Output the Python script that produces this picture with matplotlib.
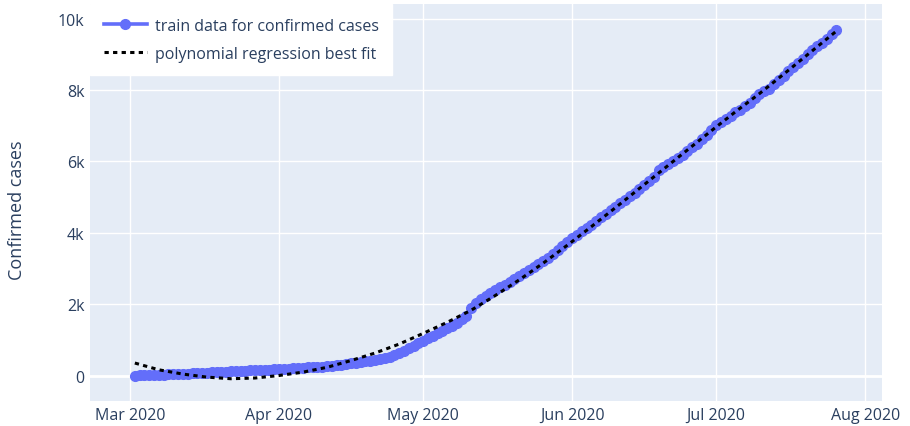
import pandas as pd
import matplotlib
matplotlib.use('Agg')
from matplotlib import pyplot as plt
import matplotlib.dates as mdates

# daily train data, 2 Mar 2020 -> 26 Jul 2020
train_start = '2020-03-02'
confirmed = [
    # Mar 2 - Mar 31
    0, 3, 6, 10, 14, 20, 26, 32, 38, 44, 50, 56, 62, 68, 74,
    80, 88, 96, 104, 112, 118, 124, 130, 136, 142, 148, 154, 160, 167, 174,
    # Apr
    181, 188, 195, 202, 210, 218, 226, 234, 242, 250, 260, 272, 285, 300, 315,
    345, 360, 378, 396, 414, 432, 455, 480, 520, 570, 630, 700, 770, 840, 910,
    # May
    980, 1050, 1120, 1190, 1260, 1330, 1400, 1480, 1570, 1680, 1900, 2040, 2150, 2240, 2320,
    2400, 2470, 2540, 2620, 2700, 2790, 2880, 2970, 3050, 3130, 3210, 3300, 3400, 3510, 3620, 3740,
    # Jun
    3860, 3950, 4040, 4130, 4230, 4330, 4430, 4530, 4630, 4730, 4830, 4930, 5030, 5120, 5220,
    5330, 5450, 5570, 5760, 5840, 5920, 6000, 6090, 6180, 6280, 6390, 6500, 6620, 6750, 6880,
    # Jul 1 - Jul 26
    7010, 7100, 7190, 7280, 7370, 7450, 7540, 7640, 7790, 7880, 7960, 8040, 8160,
    8280, 8400, 8520, 8640, 8760, 8880, 9000, 9110, 9220, 9330, 9440, 9560, 9680,
]
train_dates = pd.date_range(train_start, periods=len(confirmed), freq='D')

# polynomial regression best fit
fit_dates = pd.to_datetime([
    '2020-03-02', '2020-03-07', '2020-03-12', '2020-03-17', '2020-03-22', '2020-03-27',
    '2020-04-01', '2020-04-06', '2020-04-11', '2020-04-16', '2020-04-21', '2020-04-26',
    '2020-05-01', '2020-05-06', '2020-05-11', '2020-05-16', '2020-05-21', '2020-05-26',
    '2020-05-31', '2020-06-05', '2020-06-10', '2020-06-15', '2020-06-20', '2020-06-25',
    '2020-06-30', '2020-07-05', '2020-07-10', '2020-07-15', '2020-07-20', '2020-07-25',
    '2020-07-26',
])
fit_values = [
    350, 160, 40, -45, -90, -70,
    0, 95, 230, 420, 630, 880,
    1180, 1490, 1830, 2240, 2680, 3150,
    3650, 4170, 4700, 5240, 5780, 6320,
    6860, 7390, 7900, 8440, 8990, 9540,
    9650,
]

month_ticks = pd.to_datetime(['2020-03-01', '2020-04-01', '2020-05-01',
                              '2020-06-01', '2020-07-01', '2020-08-01'])
y_ticks = [0, 2000, 4000, 6000, 8000, 10000]
y_tick_labels = ['0', '2k', '4k', '6k', '8k', '10k']

txt_color = '#2a3f5f'
plt.rcParams['font.family'] = ['Open Sans', 'DejaVu Sans']

fig = plt.figure(figsize=(9.10, 4.27), dpi=100)
ax = fig.add_axes([90 / 910, 1 - 402 / 427, 792 / 910, 397 / 427])
ax.set_facecolor('#E5ECF6')

ax.plot(train_dates, confirmed, color='#636EFA', linewidth=2.6, marker='o',
        ms=7, mec='#636EFA', mfc='#636EFA', label='train data for confirmed cases', zorder=3)
ax.plot(fit_dates, fit_values, color='black', linewidth=2.2, linestyle=(0, (1.4, 1.4)),
        label='polynomial regression best fit', zorder=4)

ax.set_xlim(mdates.date2num(pd.Timestamp('2020-02-21 16:00')),
            mdates.date2num(pd.Timestamp('2020-08-04 12:00')))
ax.set_ylim(-714, 10410)

ax.set_xticks(month_ticks)
ax.xaxis.set_major_formatter(mdates.DateFormatter('%b %Y'))
ax.set_yticks(y_ticks)
ax.set_yticklabels(y_tick_labels)

ax.grid(True, color='white', linewidth=1.0)
ax.axhline(0, color='white', linewidth=2.0, zorder=1)
ax.set_axisbelow(True)
for sp in ax.spines.values():
    sp.set_visible(False)
ax.tick_params(axis='both', length=0, labelsize=11.5, colors=txt_color)
ax.tick_params(axis='x', pad=4)
ax.tick_params(axis='y', pad=4)

fig.text(17 / 910, 1 - 210 / 427, 'Confirmed cases', rotation=90, fontsize=13,
         color=txt_color, ha='center', va='center')

leg = ax.legend(loc='upper left', bbox_to_anchor=(0, 1), borderaxespad=0,
                frameon=True, fancybox=False, framealpha=1, edgecolor='white',
                facecolor='white', fontsize=11.5, handlelength=2.7, handletextpad=0.5,
                labelspacing=0.75, borderpad=0.85, numpoints=1)
for t in leg.get_texts():
    t.set_color(txt_color)

plt.savefig('out.png', dpi=100)
